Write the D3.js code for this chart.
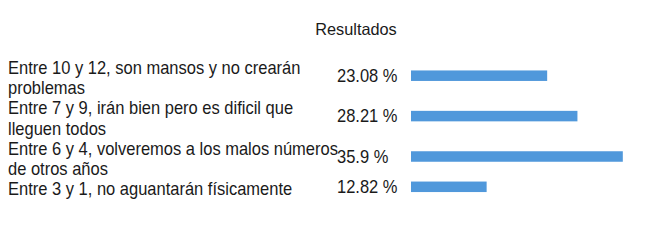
<!DOCTYPE html>
<html lang="es">
	<head>
		<meta charset="utf-8">
		<title>Resultados</title>
		<script type="text/javascript" src="https://cdn.jsdelivr.net/npm/d3@7"></script>
		<style type="text/css">
			body { margin: 0; background: #fff; }
			text { font-family: "Liberation Sans", Arial, sans-serif; fill: #1a1a1a; }
		</style>
	</head>
	<body>
		<script type="text/javascript">

			// categories (line breaks as in the original)
			var categories = [
				"Entre 10 y 12, son mansos y no crearán\nproblemas",
				"Entre 7 y 9, irán bien pero es dificil que\nlleguen todos",
				"Entre 6 y 4, volveremos a los malos números\nde otros años",
				"Entre 3 y 1, no aguantarán físicamente"
			];
			var values = [23.08, 28.21, 35.9, 12.82];
			var valueLabels = ["23.08 %", "28.21 %", "35.9 %", "12.82 %"];
			var title = "Resultados";

			var w = 650, h = 247;
			var lineH = 20.2, rowTop = 60, stretch = 1.13;

			var svg = d3.select("body")
						.append("svg")
						.attr("width", w)
						.attr("height", h);

			var xScale = d3.scaleLinear()
				.domain([0, 100])
				.range([411, 1001]);

			// rows are as tall as their wrapped label
			var rows = [];
			var y0 = rowTop;
			categories.forEach(function(c, i) {
				var lines = c.split("\n");
				rows.push({ label: lines, value: values[i], vlabel: valueLabels[i], y: y0, hgt: lines.length * lineH });
				y0 += lines.length * lineH;
			});

			svg.append("text")
				.attr("text-anchor", "middle")
				.attr("font-size", "16.3px")
				.attr("transform", "translate(356,35) scale(1,1.05)")
				.text(title);

			var g = svg.selectAll("g.row")
				.data(rows)
				.enter()
				.append("g")
				.attr("class", "row");

			g.each(function(d) {
				var sel = d3.select(this);
				d.label.forEach(function(l, j) {
					sel.append("text")
						.attr("font-size", "16.5px")
						.attr("transform", "translate(8," + (d.y + 14 + j * lineH) + ") scale(1," + stretch + ")")
						.text(l);
				});
			});

			g.append("rect")
				.attr("x", xScale(0))
				.attr("y", function(d) { return d.y + d.hgt / 2 - 4.5 - 5.25; })
				.attr("width", function(d) { return xScale(d.value) - xScale(0); })
				.attr("height", 10.5)
				.attr("fill", "#5098db");

			g.append("text")
				.attr("font-size", "16.5px")
				.attr("transform", function(d) {
					return "translate(337," + (d.y + d.hgt / 2 + 1.5) + ") scale(1," + stretch + ")";
				})
				.text(function(d) { return d.vlabel; });

		</script>
	</body>
</html>
